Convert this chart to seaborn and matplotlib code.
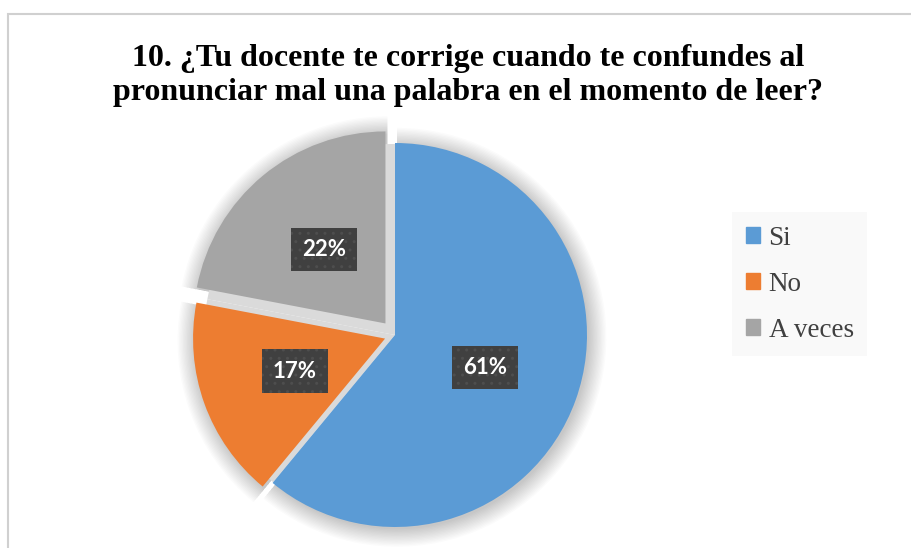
import matplotlib
matplotlib.use("Agg")
import matplotlib.pyplot as plt
import matplotlib.patches as mpatches
import seaborn as sns

# datos
categorias = ["Si", "No", "A veces"]
porcentajes = [61, 17, 22]
colores = ["#5B9BD5", "#ED7D31", "#A5A5A5"]
separacion = [0.0, 0.055, 0.078]
titulo = "10. ¿Tu docente te corrige cuando te confundes al\npronunciar mal una palabra en el momento de leer?"

sns.set_theme(style="white")
plt.rcParams['font.family'] = ['Liberation Serif', 'DejaVu Serif']

W, H = 912, 548
fig = plt.figure(figsize=(W / 100, H / 100), dpi=100)
fig.patch.set_facecolor("white")

# marco del grafico
fig.patches.append(mpatches.Rectangle((8 / W, -0.1), 1.2, (H - 14) / H + 0.1,
                                      transform=fig.transFigure, fill=False,
                                      edgecolor="#d0d0d0", lw=1.5, zorder=0))

# ejes en pixeles: radio 192 px, centro en (395, 335)
R = 192.0
cx, cy = 395, H - 335
ax = fig.add_axes([0, 0, 1, 1])

# sombra difusa
for i in range(14):
    ax.pie(porcentajes, explode=separacion, startangle=90, counterclock=False,
           radius=1 + i * 0.007, center=(0.01, -0.012),
           colors=["black"] * 3, wedgeprops=dict(alpha=0.016, lw=0))
# relleno gris de los huecos entre sectores
ax.pie(porcentajes, startangle=90, counterclock=False, radius=0.995,
       colors=["#dadada"] * 3, wedgeprops=dict(lw=0))

wedges, _, autotexts = ax.pie(
    porcentajes, explode=separacion, startangle=90, counterclock=False,
    colors=colores, autopct="%1.0f%%", pctdistance=0.5,
    wedgeprops=dict(lw=0),
    textprops=dict(color="white", fontsize=16, fontweight="bold", family="Lato"))

for t in autotexts:
    t.set_bbox(dict(boxstyle="square,pad=0.5", facecolor="#404040",
                    edgecolor="#4e4e4e", hatch="..", lw=0))

ax.set_xlim(-cx / R, (W - cx) / R)
ax.set_ylim(-cy / R, (H - cy) / R)
ax.set_aspect("auto")
ax.axis("off")

fig.text(468 / W, 1 - 44 / H, titulo, ha="center", va="top",
         fontsize=23, fontweight="bold", color="black", linespacing=1.22)

handles = [mpatches.Patch(color=c, label=l) for c, l in zip(colores, categorias)]
leg = fig.legend(handles=handles, loc="upper left", bbox_to_anchor=(732 / W, 1 - 212 / H),
                 bbox_transform=fig.transFigure, borderaxespad=0, frameon=True,
                 fontsize=19.5, handlelength=0.55, handleheight=0.55, handletextpad=0.3,
                 labelspacing=0.78, borderpad=0.5, fancybox=False)
leg.get_frame().set_facecolor("#f8f8f8")
leg.get_frame().set_edgecolor("none")
for t in leg.get_texts():
    t.set_color("#404040")

fig.savefig("out.png", dpi=100)
